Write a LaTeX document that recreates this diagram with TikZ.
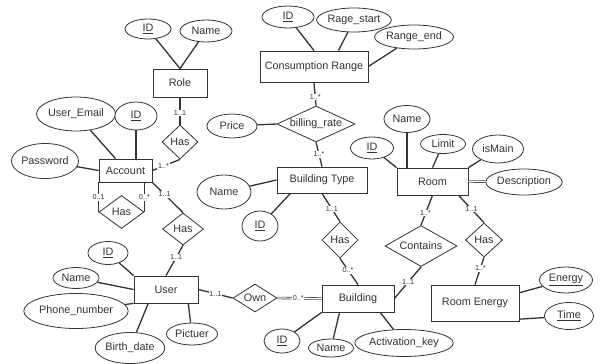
\documentclass[tikz,border=0pt]{standalone}
\usepackage{fontspec}
\setmainfont{Liberation Sans}
\usetikzlibrary{shapes.geometric}
\definecolor{ink}{HTML}{333333}
\begin{document}
\begin{tikzpicture}[x=1pt,y=-1pt,
  ent/.style={draw=ink, line width=0.8pt, fill=white, inner sep=0pt, font=\fontsize{10.8}{12}\selectfont, text=ink},
  attr/.style={ellipse, draw=ink, line width=0.8pt, fill=white, inner sep=0pt, font=\fontsize{10.8}{12}\selectfont, text=ink},
  rel/.style={diamond, draw=ink, line width=0.8pt, fill=white, inner sep=0pt, aspect=1, label={[font=\fontsize{10.8}{12}\selectfont, text=ink]center:#1}},
  conn/.style={draw=ink, line width=1.3pt},
  dbl/.style={draw=ink, line width=0.6pt, double=white, double distance=1.2pt},
  lbl/.style={font=\fontsize{7.2}{8}\selectfont, fill=white, inner sep=0.8pt, text=ink}]
\useasboundingbox (0,0) rectangle (603,364);
% Entities
\node[ent, minimum width=54, minimum height=28] (role) at (180,83) {Role};
\node[ent, minimum width=108, minimum height=31] (cr) at (314,66.5) {Consumption Range};
\node[ent, minimum width=53, minimum height=23] (account) at (125.5,170.5) {Account};
\node[ent, minimum width=64, minimum height=27] (user) at (166,289.5) {User};
\node[ent, minimum width=72, minimum height=27] (building) at (358,298.5) {Building};
\node[ent, minimum width=90, minimum height=26] (bt) at (322,180) {Building Type};
\node[ent, minimum width=71, minimum height=27] (room) at (432.5,181.5) {Room};
\node[ent, minimum width=88, minimum height=36] (re) at (475,303) {Room Energy};
% Attributes
\node[attr, minimum width=46, minimum height=20] (rid) at (148,29) {\underline{ID}};
\node[attr, minimum width=52, minimum height=22] (rname) at (206,31) {Name};
\node[attr, minimum width=52, minimum height=22] (crid) at (288,17) {\underline{ID}};
\node[attr, minimum width=62, minimum height=24] (rstart) at (354,20) {Rage\_start};
\node[attr, minimum width=68, minimum height=24] (rend) at (414,37) {Range\_end};
\node[attr, minimum width=50, minimum height=24] (price) at (232,126) {Price};
\node[attr, minimum width=64, minimum height=34] (uemail) at (76,114) {User\_Email};
\node[attr, minimum width=42, minimum height=28] (aid) at (136,116) {\underline{ID}};
\node[attr, minimum width=66, minimum height=35] (password) at (45,161) {Password};
\node[attr, minimum width=40, minimum height=23] (uid) at (108,253) {\underline{ID}};
\node[attr, minimum width=46, minimum height=21] (uname) at (76,278) {Name};
\node[attr, minimum width=81, minimum height=35] (phone) at (76,311) {Phone\_number};
\node[attr, minimum width=63, minimum height=31] (birth) at (130,348) {Birth\_date};
\node[attr, minimum width=51, minimum height=22] (pictuer) at (192,334) {Pictuer};
\node[attr, minimum width=36, minimum height=24] (bid) at (282,341) {\underline{ID}};
\node[attr, minimum width=45, minimum height=18] (bname) at (331,348) {Name};
\node[attr, minimum width=92, minimum height=27] (actkey) at (404,343) {Activation\_key};
\node[attr, minimum width=54, minimum height=34] (btname) at (224,192) {Name};
\node[attr, minimum width=36, minimum height=30] (btid) at (260,226) {\underline{ID}};
\node[attr, minimum width=46, minimum height=27] (rmname) at (407,119) {Name};
\node[attr, minimum width=43, minimum height=22] (rmid) at (372,148) {\underline{ID}};
\node[attr, minimum width=45, minimum height=19] (limit) at (443,144) {Limit};
\node[attr, minimum width=51, minimum height=28] (ismain) at (498,149) {isMain};
\node[attr, minimum width=63, minimum height=26] (desc) at (524,182) {Description};
\node[attr, minimum width=53, minimum height=26] (energy) at (566,280) {\underline{Energy}};
\node[attr, minimum width=49, minimum height=27] (time) at (569,316) {\underline{Time}};
% Relationships
\node[rel=billing\_rate, minimum width=78, minimum height=36] (billing) at (316,124) {};
\node[rel=Has, minimum width=36, minimum height=34] (hasR) at (180,142) {};
\node[rel=Has, minimum width=45, minimum height=33] (hasS) at (121.5,212) {};
\node[rel=Has, minimum width=41, minimum height=32] (hasA) at (183,229) {};
\node[rel=Own, minimum width=44, minimum height=28] (own) at (255,298) {};
\node[rel=Has, minimum width=36, minimum height=36] (hasB) at (340,240) {};
\node[rel=Contains, minimum width=72, minimum height=41] (contains) at (421,246) {};
\node[rel=Has, minimum width=37, minimum height=34] (hasRm) at (484,240) {};
% Attribute connectors
\draw[conn] (rid) -- (role.north);
\draw[conn] (rname) -- (role.north);
\draw[conn] (crid) -- (cr.north);
\draw[conn] (rstart) -- (cr.33);
\draw[conn] (rend) -- (cr.east);
\draw[conn] (price) -- (billing.west);
\draw[conn] (uemail) -- (account.130);
\draw[conn] (aid.south) -- (aid.south |- account.north);
\draw[conn] (password) -- (account.west);
\draw[conn] (uid) -- (user.north west);
\draw[conn] (uname) -- (user.west);
\draw[conn] (phone) -- (user.south west);
\draw[conn] (birth) -- (user.218);
\draw[conn] (pictuer) -- (user.-32);
\draw[conn] (bid) -- (building.south west);
\draw[conn] (bname) -- (building.217);
\draw[conn] (actkey) -- (building.-32);
\draw[conn] (btname) -- (bt.west);
\draw[conn] (btid) -- (bt.203);
\draw[conn] (rmname.south) -- (rmname.south |- room.north);
\draw[conn] (rmid) -- (room.north west);
\draw[conn] (limit) -- (room.north);
\draw[conn] (ismain) -- (room.north east);
\draw[dbl] (room.east) -- (desc);
\draw[conn] (energy) -- (re.13);
\draw[conn] (time) -- (re.-20);
% Relationship connectors with cardinalities
\draw[conn] (cr.south) -- node[lbl, pos=0.62] {1..*} (billing.north);
\draw[conn] (billing.south) -- node[lbl, pos=0.5] {1..*} (bt.north);
\draw[conn] (role.south) -- node[lbl, pos=0.57] {1..1} (hasR.north);
\draw[conn] (hasR.south) -- node[lbl, pos=0.6] {1..*} (account.east);
\draw[conn] (account.south west) -- node[lbl, pos=0.5] {0..1} (hasS.west);
\draw[conn] (hasS.east |- account.south) -- node[lbl, pos=0.5] {0..*} (hasS.east);
\draw[conn] (account.south east) -- node[lbl, pos=0.4] {1..1} (hasA.north);
\draw[conn] (hasA.south) -- node[lbl, pos=0.4] {1..1} (user.north);
\draw[conn] (user.east) -- node[lbl, pos=0.5] {1..1} (own.west);
\draw[dbl] (own.east) -- node[lbl, pos=0.47] {0..*} (building.west);
\draw[conn] (bt.south) -- node[lbl, pos=0.55] {1..1} (hasB.north);
\draw[conn] (hasB.south) -- node[lbl, pos=0.45] {0..*} (building.north);
\draw[conn] (contains.south) -- node[lbl, pos=0.48] {1..1} (building.east);
\draw[conn] (room.south) -- node[lbl, pos=0.6] {1..*} (contains.north);
\draw[conn] (room.-28) -- node[lbl, pos=0.5] {1..1} (hasRm.north);
\draw[conn] (hasRm.south) -- node[lbl, pos=0.4] {1..*} (re.north);
\end{tikzpicture}
\end{document}
